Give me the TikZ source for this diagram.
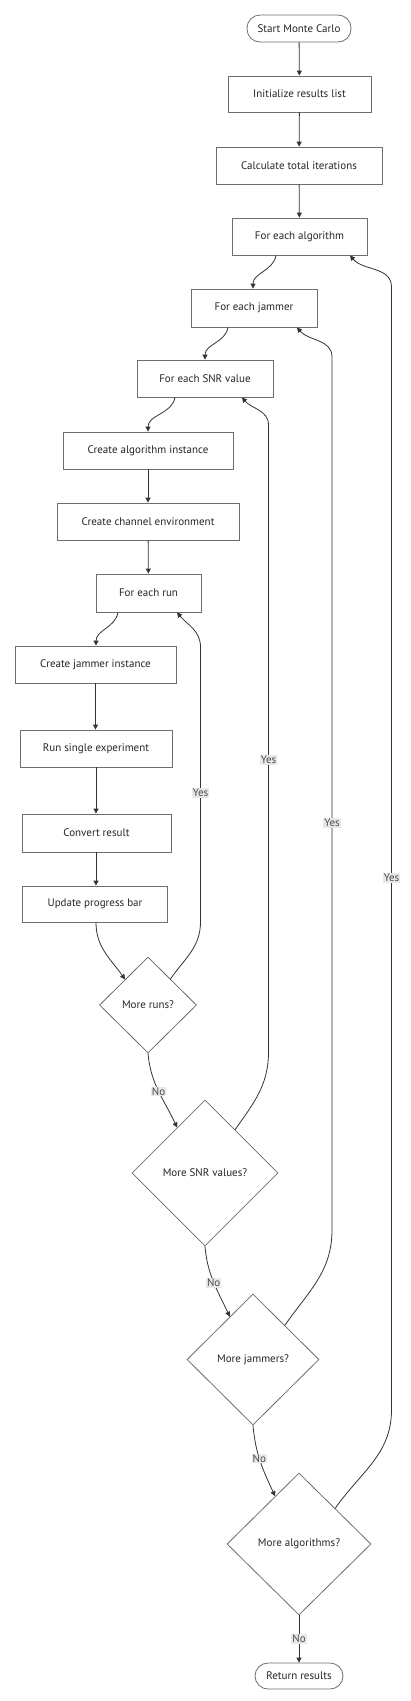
\documentclass[tikz,border=0pt]{standalone}
\usepackage{fontspec}
\setmainfont{PT Sans}
\usetikzlibrary{shapes.geometric,arrows.meta,calc}
\definecolor{edgec}{HTML}{333333}
\definecolor{boxc}{HTML}{6E6E6E}
\definecolor{lblbg}{HTML}{E8E8E8}
\tikzset{
  box/.style={draw=boxc,line width=0.8pt,fill=white,rectangle,inner sep=0pt,font=\fontsize{11}{13}\selectfont,text=black!85},
  term/.style={box,rounded corners=13pt},
  dia/.style={draw=boxc,line width=0.8pt,fill=white,diamond,inner sep=0pt,font=\fontsize{11}{13}\selectfont,text=black!85},
  edge/.style={draw=edgec,line width=0.8pt,-{Triangle[length=5pt,width=5pt]}},
  lbl/.style={fill=lblbg,inner sep=1pt,font=\fontsize{11}{13}\selectfont,text=black!70}
}
\begin{document}
\begin{tikzpicture}[x=1pt,y=-1pt]
\useasboundingbox (0,0) rectangle (411,1701);
% nodes
\node[term,minimum width=104,minimum height=27] (start) at (299,28.5) {Start Monte Carlo};
\node[box,minimum width=143,minimum height=36] (init) at (299.5,94) {Initialize results list};
\node[box,minimum width=166,minimum height=37] (calc) at (299,165.5) {Calculate total iterations};
\node[box,minimum width=135,minimum height=37] (alg) at (299.5,236.5) {For each algorithm};
\node[box,minimum width=126,minimum height=38] (jam) at (254,308) {For each jammer};
\node[box,minimum width=136,minimum height=37] (snr) at (205,378.5) {For each SNR value};
\node[box,minimum width=170,minimum height=37] (calg) at (148,450.5) {Create algorithm instance};
\node[box,minimum width=182,minimum height=37] (chan) at (148,521.5) {Create channel environment};
\node[box,minimum width=105,minimum height=38] (run) at (148.5,593) {For each run};
\node[box,minimum width=161,minimum height=37] (jinst) at (95.5,664.5) {Create jammer instance};
\node[box,minimum width=152,minimum height=37] (rse) at (96,748.5) {Run single experiment};
\node[box,minimum width=149,minimum height=38] (conv) at (96.5,833) {Convert result};
\node[box,minimum width=145,minimum height=36] (upd) at (95,904) {Update progress bar};
\node[dia,minimum width=97,minimum height=96] (druns) at (148,1005) {More runs?};
\node[dia,minimum width=146,minimum height=146] (dsnr) at (205,1173) {More SNR values?};
\node[dia,minimum width=132,minimum height=131] (djam) at (253,1359.5) {More jammers?};
\node[dia,minimum width=144,minimum height=142] (dalg) at (299,1544) {More algorithms?};
\node[term,minimum width=88,minimum height=26] (ret) at (299,1676) {Return results};
% straight edges
\draw[edge] (start) -- (init);
\draw[edge] (init) -- (calc);
\draw[edge] (calc) -- (alg);
\draw[edge] (calg) -- (chan);
\draw[edge] (chan) -- (run);
\draw[edge] (jinst.south) -- (jinst.south |- rse.north);
\draw[edge] (rse.south) -- (rse.south |- conv.north);
\draw[edge] ($(conv.south)+(-0.5,0)$) -- ($(upd.north)+(1,0)$);
% curved forward edges
\draw[edge] ($(alg.south)+(-23.5,0)$) to[out=-100,in=90] ($(jam.north)+(-1,0)$);
\draw[edge] ($(jam.south)+(-26,0)$) to[out=-100,in=90] (snr.north);
\draw[edge] ($(snr.south)+(-30,0)$) to[out=-100,in=90] (calg.north);
\draw[edge] ($(run.south)+(-30.5,0)$) to[out=-100,in=90] ($(jinst.north)+(0.5,0)$);
\draw[edge] ($(upd.south)+(1,0)$) to[out=-90,in=125] ($(druns.north)!0.47!(druns.west)$);
% No edges
\draw[edge] (druns.south) to[out=-85,in=115] node[lbl,pos=0.5]{No} ($(dsnr.north)!0.38!(dsnr.west)$);
\draw[edge] (dsnr.south) to[out=-85,in=115] node[lbl,pos=0.5]{No} ($(djam.north)!0.35!(djam.west)$);
\draw[edge] (djam.south) to[out=-85,in=115] node[lbl,pos=0.45]{No} ($(dalg.north)!0.33!(dalg.west)$);
\draw[edge] (dalg.south) -- node[lbl,pos=0.5]{No} (ret.north);
% Yes loops
\draw[edge] ($(druns.north)!0.46!(druns.east)$) to[out=55,in=-90] (200.5,922) -- node[lbl,pos=0.47]{Yes} (200.5,647) to[out=90,in=-50] ($(run.south)+(28.5,0)$);
\draw[edge] ($(dsnr.north)!0.41!(dsnr.east)$) to[out=55,in=-90] (268.5,1052) -- node[lbl,pos=0.466]{Yes} (268.5,425) to[out=90,in=-50] ($(snr.south)+(37,0)$);
\draw[edge] ($(djam.north)!0.48!(djam.east)$) to[out=55,in=-90] (332,1230) -- node[lbl,pos=0.466]{Yes} (332,357) to[out=90,in=-50] ($(jam.south)+(43,0)$);
\draw[edge] ($(dalg.north)!0.5!(dalg.east)$) to[out=55,in=-90] (391.5,1410) -- node[lbl,pos=0.474]{Yes} (391.5,287) to[out=90,in=-50] ($(alg.south)+(50.5,0)$);
\end{tikzpicture}
\end{document}
